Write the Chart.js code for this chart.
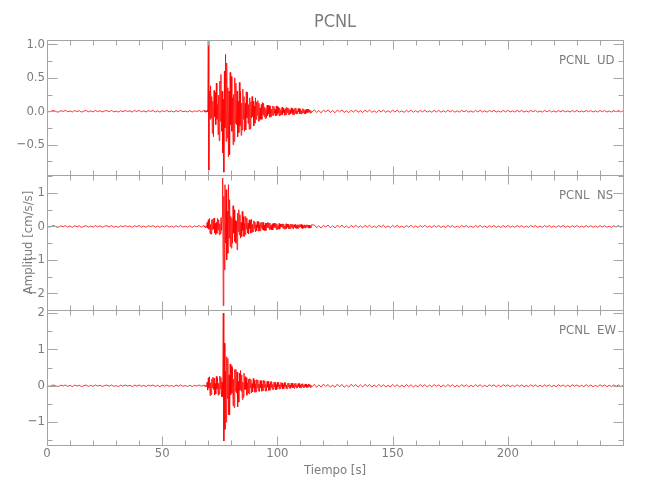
<!DOCTYPE html>
<html><head><meta charset="utf-8">
<script src="https://cdn.jsdelivr.net/npm/chart.js@4.4.1/dist/chart.umd.min.js"></script>
<style>html,body{margin:0;padding:0;background:#fff}#wrap{width:650px;height:500px}</style>
</head><body><div id="wrap"><canvas id="c" width="650" height="500"></canvas></div>
<script>
// ---------- data ----------
const station = 'PCNL';
const components = ['UD', 'NS', 'EW'];
const quietStep = 1;      // s between samples in quiet parts
const activeStart = 68;   // s
const activeStep = 0.25;  // s
const postStart = 116;    // s

const udPre = [
0.006,-0.010,0.004,0.011,-0.007,-0.012,0.009,-0.003,0.012,-0.008,
0.005,-0.011,0.010,-0.004,0.008,-0.013,0.003,0.011,-0.009,0.006,
-0.010,0.012,-0.005,0.008,-0.011,0.004,0.010,-0.007,0.013,-0.009,
0.002,-0.012,0.009,-0.006,0.011,-0.004,0.007,-0.012,0.010,-0.003,
0.012,-0.008,0.005,-0.011,0.009,-0.002,0.011,-0.010,0.006,-0.013,
0.008,-0.005,0.012,-0.009,0.004,-0.011,0.010,-0.006,0.013,-0.008,
0.003,-0.010,0.009,-0.012,0.007,-0.004,0.011,-0.009];
const udActive = [
0.012,-0.008,0.014,-0.011,
0.009,-0.014,0.011,-0.010,
1.05,-0.88,0.30,-0.12,
0.38,-0.10,0.22,-0.33,
0.15,-0.38,0.31,-0.08,
0.28,-0.20,0.42,-0.12,
0.10,-0.35,0.24,-0.44,
0.45,-0.15,0.55,-0.30,
0.30,-0.62,0.18,-0.91,
0.60,-0.25,0.85,-0.45,
0.72,-0.40,0.35,-0.68,
0.30,-0.65,0.58,-0.20,
0.52,-0.30,0.20,-0.50,
0.25,-0.45,0.50,-0.18,
0.42,-0.20,0.30,-0.38,
0.15,-0.32,0.43,-0.22,
0.30,-0.36,0.12,-0.28,
0.33,-0.12,0.22,-0.30,
0.12,-0.28,0.29,-0.10,
0.28,-0.18,0.10,-0.27,
0.20,-0.26,0.14,-0.10,
0.22,-0.08,0.15,-0.22,
0.08,-0.18,0.20,-0.12,
0.14,-0.06,0.16,-0.15,
0.12,-0.14,0.05,-0.12,
0.10,-0.12,0.13,-0.05,
0.12,-0.08,0.06,-0.11,
0.04,-0.10,0.09,-0.07,
0.09,-0.04,0.08,-0.09,
0.07,-0.08,0.03,-0.06,
0.08,-0.06,0.07,-0.03,
0.03,-0.07,0.08,-0.06,
0.07,-0.03,0.06,-0.07,
0.05,-0.06,0.02,-0.05,
0.06,-0.05,0.05,-0.02,
0.02,-0.06,0.04,-0.05,
0.06,-0.02,0.05,-0.05,
0.04,-0.05,0.02,-0.04,
0.05,-0.02,0.04,-0.05,
0.02,-0.05,0.04,-0.03,
0.05,-0.04,0.01,-0.04,
0.04,-0.01,0.04,-0.04,
0.03,-0.04,0.01,-0.03,
0.04,-0.02,0.03,-0.04,
0.01,-0.04,0.03,-0.02,
0.03,-0.02,0.03,-0.01,
0.02,-0.03,0.01,-0.02];
const udPost = [
0.022,-0.018,0.010,-0.024,0.016,-0.008,0.021,-0.019,0.012,-0.022,
0.018,-0.011,0.020,-0.017,0.007,-0.021,0.015,-0.012,0.019,-0.016,
0.009,-0.019,0.017,-0.010,0.018,-0.015,0.006,-0.018,0.016,-0.012,
0.017,-0.014,0.008,-0.017,0.015,-0.011,0.016,-0.013,0.005,-0.016,
0.014,-0.010,0.016,-0.014,0.008,-0.015,0.013,-0.009,0.015,-0.012,
0.006,-0.015,0.014,-0.011,0.013,-0.014,0.007,-0.013,0.015,-0.010,
0.012,-0.014,0.006,-0.013,0.014,-0.009,0.012,-0.013,0.005,-0.014,
0.013,-0.010,0.014,-0.012,0.007,-0.013,0.011,-0.009,0.013,-0.011,
0.005,-0.013,0.012,-0.010,0.013,-0.012,0.006,-0.011,0.013,-0.009,
0.011,-0.012,0.005,-0.012,0.013,-0.008,0.011,-0.012,0.004,-0.013,
0.012,-0.009,0.013,-0.011,0.006,-0.012,0.010,-0.008,0.012,-0.010,
0.004,-0.012,0.011,-0.009,0.012,-0.011,0.005,-0.010,0.012,-0.008,
0.010,-0.011,0.005,-0.011,0.012,-0.007,0.010,-0.011,0.004,-0.012,
0.011,-0.008,0.012,-0.010,0.005];

const nsPre = [
0.018,-0.024,0.010,0.026,-0.015,-0.022,0.020,-0.008,0.025,-0.019,
0.012,-0.026,0.021,-0.010,0.017,-0.027,0.006,0.023,-0.020,0.014,
-0.022,0.027,-0.012,0.019,-0.024,0.009,0.022,-0.016,0.028,-0.021,
0.005,-0.025,0.020,-0.013,0.024,-0.009,0.016,-0.026,0.022,-0.007,
0.026,-0.018,0.011,-0.024,0.020,-0.005,0.025,-0.022,0.013,-0.028,
0.018,-0.011,0.027,-0.020,0.009,-0.025,0.022,-0.014,0.029,-0.018,
0.008,-0.023,0.021,-0.027,0.016,-0.010,0.026,-0.021];
const nsActive = [
0.03,-0.01,0.02,-0.03,
0.01,-0.03,0.12,-0.05,
0.20,-0.08,0.24,-0.22,
0.06,-0.23,0.20,-0.10,
0.22,-0.07,0.25,-0.19,
0.09,-0.24,0.12,-0.20,
0.24,-0.10,0.20,-0.25,
0.08,-0.22,0.26,-0.12,
0.30,1.45,-2.37,0.90,
-1.30,1.25,-0.50,1.10,
-1.00,0.45,-0.80,1.25,
-0.35,0.80,-0.60,0.30,
-0.65,0.25,-0.50,0.62,
-0.20,0.50,-0.45,0.18,
-0.50,0.15,-0.70,0.40,
-0.15,0.50,-0.25,0.35,
-0.35,0.12,-0.30,0.45,
-0.12,0.30,-0.30,0.10,
-0.25,0.30,-0.08,0.25,
-0.20,0.10,-0.22,0.20,
-0.06,0.18,-0.20,0.22,
-0.17,0.06,-0.15,0.17,
-0.05,0.14,-0.16,0.05,
-0.13,0.15,-0.04,0.14,
-0.14,0.05,-0.13,0.11,
-0.04,0.13,-0.10,0.12,
-0.11,0.04,-0.12,0.10,
-0.12,0.10,-0.03,0.12,
-0.04,0.11,-0.09,0.10,
-0.09,0.03,-0.10,0.08,
-0.10,0.09,-0.03,0.10,
-0.03,0.09,-0.09,0.08,
-0.09,0.03,-0.07,0.09,
-0.08,0.07,-0.02,0.07,
-0.02,0.08,-0.06,0.07,
-0.08,0.02,-0.07,0.08,
-0.06,0.07,-0.02,0.06,
-0.07,0.02,-0.06,0.07,
-0.02,0.07,-0.05,0.06,
-0.07,0.05,-0.02,0.06,
-0.05,0.02,-0.06,0.05,
-0.06,0.05,-0.02,0.06,
-0.02,0.06,-0.05,0.05,
-0.06,0.02,-0.04,0.05,
-0.05,0.04,-0.02,0.05,
-0.02,0.05,-0.05,0.04,
-0.05,0.02,-0.04,0.05];
const nsPost = [
0.044,-0.036,0.020,-0.047,0.032,-0.015,0.042,-0.038,0.024,-0.044,
0.037,-0.022,0.041,-0.034,0.014,-0.043,0.030,-0.025,0.039,-0.032,
0.018,-0.040,0.035,-0.021,0.038,-0.031,0.013,-0.037,0.033,-0.024,
0.036,-0.029,0.017,-0.036,0.031,-0.022,0.034,-0.027,0.011,-0.035,
0.030,-0.021,0.035,-0.030,0.016,-0.033,0.028,-0.019,0.033,-0.026,
0.012,-0.032,0.030,-0.023,0.028,-0.030,0.015,-0.029,0.032,-0.021,
0.027,-0.031,0.013,-0.029,0.031,-0.020,0.026,-0.029,0.011,-0.031,
0.029,-0.022,0.031,-0.027,0.015,-0.030,0.024,-0.019,0.029,-0.025,
0.011,-0.029,0.027,-0.022,0.029,-0.027,0.014,-0.025,0.030,-0.020,
0.025,-0.028,0.012,-0.027,0.029,-0.018,0.025,-0.027,0.010,-0.029,
0.027,-0.020,0.029,-0.025,0.014,-0.028,0.023,-0.018,0.027,-0.023,
0.010,-0.027,0.025,-0.020,0.027,-0.025,0.013,-0.023,0.028,-0.019,
0.023,-0.026,0.011,-0.025,0.027,-0.017,0.023,-0.025,0.010,-0.027,
0.025,-0.019,0.027,-0.023,0.012];

const ewPre = [
0.015,-0.020,0.008,0.021,-0.012,-0.018,0.017,-0.006,0.021,-0.016,
0.010,-0.022,0.018,-0.008,0.014,-0.022,0.005,0.019,-0.017,0.012,
-0.018,0.022,-0.010,0.016,-0.020,0.007,0.018,-0.013,0.023,-0.017,
0.004,-0.021,0.017,-0.011,0.020,-0.007,0.013,-0.022,0.018,-0.006,
0.021,-0.015,0.009,-0.020,0.017,-0.004,0.021,-0.018,0.011,-0.023,
0.015,-0.009,0.022,-0.017,0.008,-0.021,0.018,-0.012,0.024,-0.015,
0.007,-0.019,0.017,-0.022,0.013,-0.008,0.021,-0.017];
const ewActive = [
0.02,-0.01,0.02,-0.02,
0.01,-0.02,0.10,-0.12,
0.22,-0.06,0.25,-0.27,
0.08,-0.24,0.18,-0.05,
0.24,-0.10,0.21,-0.25,
0.06,-0.22,0.26,-0.09,
0.22,-0.26,0.07,-0.23,
0.27,-0.08,0.23,-0.30,
0.10,-0.30,2.00,-1.52,
1.17,-1.20,0.40,-1.00,
0.80,-0.35,0.75,-0.80,
0.30,-0.80,0.60,-0.25,
0.55,-0.20,0.50,-0.55,
0.18,-0.60,0.45,-0.15,
0.45,-0.20,0.38,-0.58,
0.12,-0.45,0.35,-0.12,
0.42,-0.15,0.30,-0.38,
0.10,-0.32,0.35,-0.10,
0.25,-0.10,0.22,-0.26,
0.08,-0.20,0.18,-0.22,
0.20,-0.06,0.17,-0.20,
0.06,-0.17,0.20,-0.06,
0.16,-0.18,0.05,-0.17,
0.17,-0.05,0.16,-0.14,
0.05,-0.16,0.14,-0.05,
0.14,-0.15,0.04,-0.13,
0.15,-0.04,0.14,-0.15,
0.04,-0.14,0.12,-0.04,
0.12,-0.13,0.04,-0.12,
0.11,-0.04,0.12,-0.10,
0.04,-0.10,0.10,-0.03,
0.10,-0.11,0.03,-0.10,
0.09,-0.03,0.10,-0.09,
0.03,-0.08,0.09,-0.03,
0.08,-0.09,0.03,-0.08,
0.09,-0.02,0.08,-0.08,
0.02,-0.08,0.07,-0.02,
0.08,-0.07,0.02,-0.07,
0.07,-0.02,0.07,-0.06,
0.02,-0.07,0.06,-0.02,
0.07,-0.06,0.02,-0.06,
0.06,-0.02,0.06,-0.06,
0.02,-0.06,0.05,-0.02,
0.06,-0.05,0.02,-0.05,
0.05,-0.02,0.04,-0.05,
0.02,-0.04,0.05,-0.02,
0.04,-0.05,0.02,-0.04];
const ewPost = [
0.040,-0.045,0.026,-0.038,0.046,-0.018,0.035,-0.043,0.021,-0.040,
0.043,-0.028,0.036,-0.041,0.016,-0.037,0.040,-0.022,0.033,-0.039,
0.024,-0.036,0.039,-0.017,0.034,-0.037,0.020,-0.032,0.036,-0.026,
0.031,-0.035,0.014,-0.033,0.036,-0.021,0.030,-0.034,0.018,-0.032,
0.034,-0.024,0.029,-0.033,0.013,-0.030,0.033,-0.019,0.028,-0.032,
0.020,-0.030,0.032,-0.015,0.028,-0.031,0.017,-0.027,0.031,-0.022,
0.027,-0.030,0.012,-0.028,0.030,-0.018,0.026,-0.029,0.015,-0.027,
0.029,-0.020,0.025,-0.028,0.011,-0.026,0.028,-0.016,0.024,-0.027,
0.017,-0.026,0.028,-0.013,0.024,-0.027,0.015,-0.024,0.027,-0.019,
0.024,-0.027,0.010,-0.025,0.027,-0.016,0.023,-0.026,0.013,-0.024,
0.026,-0.018,0.023,-0.025,0.010,-0.024,0.026,-0.015,0.022,-0.025,
0.015,-0.024,0.026,-0.012,0.022,-0.025,0.014,-0.022,0.025,-0.017,
0.022,-0.025,0.009,-0.023,0.025,-0.015,0.021,-0.024,0.012,-0.022,
0.024,-0.017,0.021,-0.023,0.010];

// axis ranges / tick steps
const xRange = [0, 250];
const xTickStep = 50;
const udRange = [-0.952, 1.064], udStep = 0.5;
const nsRange = [-2.5, 1.54], nsStep = 1;
const ewRange = [-1.63, 2.085], ewStep = 1;

// ---------- styling ----------
const FONT = "'Liberation Sans Narrow','DejaVu Sans Condensed','Roboto Condensed',sans-serif";
const TEXT = '#7c7c7c';
const FRAME = '#a4a4a4';
const RED = '#ff0000';

function trace(pre, active, post) {
  const pts = [];
  pre.forEach((v, i) => pts.push({x: i * quietStep, y: v}));
  active.forEach((v, i) => pts.push({x: activeStart + i * activeStep, y: v}));
  post.forEach((v, i) => pts.push({x: postStart + i * quietStep, y: v}));
  return pts;
}

const panels = [
  {axis: 'yUD', comp: components[0], data: trace(udPre, udActive, udPost)},
  {axis: 'yNS', comp: components[1], data: trace(nsPre, nsActive, nsPost)},
  {axis: 'yEW', comp: components[2], data: trace(ewPre, ewActive, ewPost)}
];

const minus = v => (v < 0 ? '\u2212' : '') + Math.abs(v);

function yAxis(range, step, fmt, extra) {
  return Object.assign({
    type: 'linear', position: 'left', stack: 'panels', stackWeight: 1,
    min: range[0], max: range[1],
    grid: {display: false, drawTicks: false},
    border: {display: false},
    ticks: {stepSize: step, includeBounds: false, padding: 2, color: TEXT,
            font: {family: FONT, size: 13}, callback: fmt},
    afterFit(s) { s.width = 47; }
  }, extra || {});
}

const framePlugin = {
  id: 'panelFrames',
  afterDatasetsDraw(chart) {
    const {ctx, chartArea: ca, scales} = chart;
    const xs = scales.x;
    const L = Math.round(ca.left) + 0.5, R = Math.round(ca.right) + 0.5;
    const xt = xs.ticks.map(t => t.value);
    const xMaj = xt[1] - xt[0], xMin = xMaj / 5;
    ctx.save();
    ctx.strokeStyle = FRAME; ctx.lineWidth = 1;
    ctx.beginPath();
    panels.forEach(p => {
      const ys = scales[p.axis];
      const T = Math.round(ys.top) + 0.5, B = Math.round(ys.bottom) + 0.5;
      ctx.moveTo(L, T); ctx.lineTo(R, T); ctx.lineTo(R, B); ctx.lineTo(L, B); ctx.closePath();
      for (let k = 0; k * xMin <= xs.max + 1e-6; k++) {
        const v = k * xMin;
        const px = Math.round(xs.getPixelForValue(v)) + 0.5;
        const len = (k % 5 === 0) ? 9 : 5;
        ctx.moveTo(px, T); ctx.lineTo(px, T + len);
        ctx.moveTo(px, B); ctx.lineTo(px, B - len);
      }
      const st = ys.options.ticks.stepSize, h = st / 2;
      for (let k = Math.ceil(ys.min / h - 1e-9); k * h <= ys.max + 1e-9; k++) {
        const py = Math.round(ys.getPixelForValue(k * h)) + 0.5;
        const major = Math.abs(Math.round(k * h / st) * st - k * h) < 1e-9;
        const len = major ? 10 : 5;
        ctx.moveTo(L, py); ctx.lineTo(L + len, py);
        ctx.moveTo(R, py); ctx.lineTo(R - len, py);
      }
    });
    ctx.stroke();
    // station / component labels
    ctx.fillStyle = TEXT;
    ctx.font = '13px ' + FONT;
    ctx.textBaseline = 'middle';
    ctx.textAlign = 'left';
    panels.forEach(p => {
      const ys = scales[p.axis];
      ctx.fillText(station, ca.right - 64, ys.top + 21);
      ctx.fillText(p.comp, ca.right - 26, ys.top + 21);
    });
    ctx.restore();
  }
};

new Chart(document.getElementById('c'), {
  type: 'line',
  data: {
    datasets: panels.map(p => ({
      label: station + ' ' + p.comp, data: p.data, yAxisID: p.axis, xAxisID: 'x',
      borderColor: RED, borderWidth: 0.8, pointRadius: 0, tension: 0, fill: false
    }))
  },
  options: {
    responsive: false, animation: false, events: [],
    layout: {padding: {left: 0, right: 27, top: 0, bottom: 0}},
    plugins: {
      legend: {display: false}, tooltip: {enabled: false},
      title: {display: true, text: station, color: TEXT, fullSize: false,
              font: {family: FONT, size: 18, weight: 'normal', lineHeight: 1.2},
              padding: {top: 12, bottom: 6.4}}
    },
    scales: {
      x: {
        type: 'linear', position: 'bottom', min: xRange[0], max: xRange[1],
        grid: {display: false, drawTicks: false}, border: {display: false},
        ticks: {stepSize: xTickStep, includeBounds: false, padding: 1, maxRotation: 0,
                autoSkip: false, color: TEXT, font: {family: FONT, size: 13},
                callback: v => (v >= xRange[1] ? '' : String(Math.round(v)))},
        title: {display: true, text: 'Tiempo [s]', color: TEXT,
                font: {family: FONT, size: 13}, padding: {top: 0, bottom: 22}},
        afterFit(s) { s.height = 55; }
      },
      yEW: yAxis(ewRange, ewStep, v => minus(v)),
      yNS: yAxis(nsRange, nsStep, v => minus(v), {
        title: {display: true, text: 'Amplitud [cm/s/s]', color: TEXT,
                font: {family: FONT, size: 13}, padding: {top: 21, bottom: 0}}
      }),
      yUD: yAxis(udRange, udStep, v => minus(v).replace(/^(\u2212?\d+)$/, '$1.0'))
    }
  },
  plugins: [framePlugin]
});
</script></body></html>
